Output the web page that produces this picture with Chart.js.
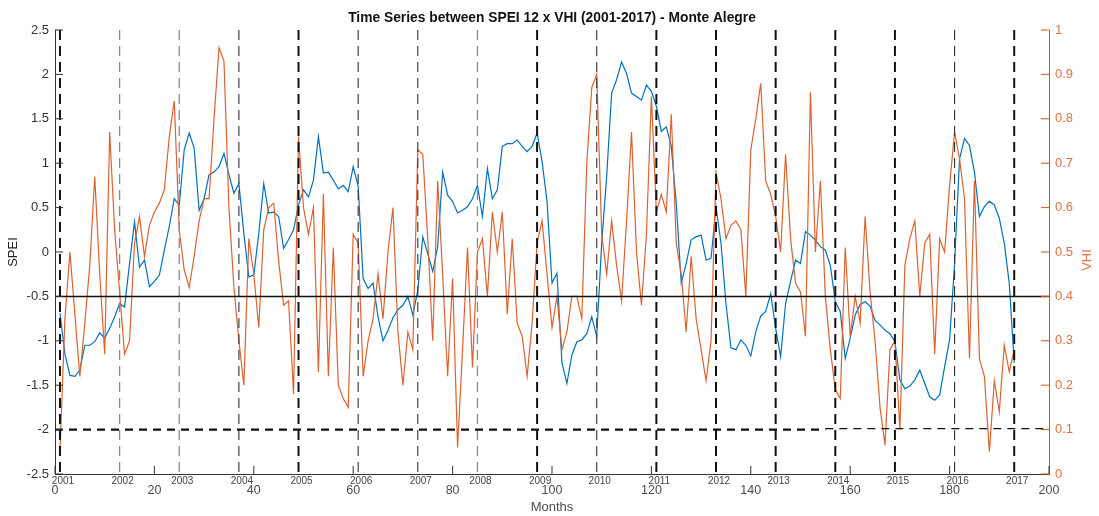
<!DOCTYPE html>
<html>
<head>
<meta charset="utf-8">
<script src="https://cdn.jsdelivr.net/npm/chart.js@4.4.0/dist/chart.umd.min.js"></script>
<style>
  html, body { margin: 0; padding: 0; background: #fff; }
  #wrap { width: 1099px; height: 516px; }
</style>
</head>
<body>
<div id="wrap"><canvas id="seriesChart" width="1099" height="516"></canvas></div>
<script>
const chartTitle = 'Time Series between SPEI 12 x VHI (2001-2017) - Monte Alegre';
const firstMonth = 1;

// SPEI 12, one row per year (month 1 = Jan 2001)
const speiValues = [
  -0.69, -1.15, -1.39, -1.40, -1.33, -1.05, -1.05, -1.01, -0.91, -0.97, -0.86, -0.73,
  -0.58, -0.62, -0.13, 0.34, -0.17, -0.09, -0.39, -0.33, -0.26, 0.02, 0.29, 0.60,
  0.53, 1.15, 1.34, 1.17, 0.47, 0.60, 0.87, 0.90, 0.96, 1.11, 0.87, 0.66,
  0.77, 0.21, -0.28, -0.26, 0.21, 0.77, 0.44, 0.45, 0.40, 0.04, 0.14, 0.25,
  0.53, 0.70, 0.62, 0.81, 1.30, 0.89, 0.90, 0.81, 0.71, 0.75, 0.68, 0.96,
  0.74, -0.30, -0.41, -0.35, -0.73, -1.00, -0.88, -0.74, -0.65, -0.60, -0.50, -0.71,
  -0.43, 0.17, -0.02, -0.22, 0.06, 0.90, 0.64, 0.57, 0.44, 0.47, 0.51, 0.60,
  0.75, 0.40, 0.94, 0.60, 0.70, 1.19, 1.22, 1.22, 1.26, 1.19, 1.13, 1.19,
  1.34, 1.02, 0.57, -0.35, -0.24, -1.25, -1.48, -1.16, -1.01, -0.99, -0.92, -0.73,
  -0.95, 0.10, 0.85, 1.79, 1.94, 2.14, 2.01, 1.79, 1.75, 1.71, 1.88, 1.81,
  1.64, 1.36, 1.41, 1.19, 0.55, -0.35, -0.13, 0.14, 0.17, 0.19, -0.09, -0.07,
  0.51, 0.10, -0.58, -1.08, -1.10, -0.99, -1.05, -1.17, -0.90, -0.72, -0.67, -0.47,
  -0.86, -1.18, -0.58, -0.33, -0.09, -0.13, 0.23, 0.19, 0.13, 0.06, 0.02, -0.15,
  -0.56, -0.67, -1.20, -0.97, -0.71, -0.59, -0.56, -0.61, -0.77, -0.82, -0.88, -0.92,
  -1.01, -1.44, -1.54, -1.51, -1.44, -1.33, -1.48, -1.63, -1.67, -1.61, -1.29, -0.99,
  -0.13, 1.05, 1.28, 1.20, 0.90, 0.40, 0.51, 0.57, 0.53, 0.38, 0.10, -0.35,
  -1.25
];

// VHI, same months
const vhiValues = [
  0.05, 0.35, 0.50, 0.36, 0.22, 0.34, 0.47, 0.67, 0.45, 0.27, 0.77, 0.55,
  0.41, 0.27, 0.30, 0.52, 0.58, 0.49, 0.56, 0.59, 0.61, 0.64, 0.76, 0.84,
  0.55, 0.46, 0.42, 0.49, 0.57, 0.62, 0.62, 0.80, 0.96, 0.93, 0.60, 0.42,
  0.30, 0.20, 0.53, 0.45, 0.33, 0.55, 0.60, 0.61, 0.48, 0.38, 0.39, 0.18,
  0.76, 0.60, 0.54, 0.60, 0.23, 0.63, 0.22, 0.51, 0.20, 0.17, 0.15, 0.54,
  0.52, 0.22, 0.30, 0.35, 0.45, 0.35, 0.50, 0.60, 0.32, 0.20, 0.32, 0.28,
  0.73, 0.72, 0.53, 0.30, 0.66, 0.45, 0.22, 0.44, 0.06, 0.28, 0.51, 0.24,
  0.50, 0.53, 0.40, 0.59, 0.50, 0.59, 0.36, 0.53, 0.34, 0.31, 0.22, 0.34,
  0.52, 0.57, 0.45, 0.33, 0.40, 0.28, 0.32, 0.40, 0.40, 0.35, 0.70, 0.87,
  0.90, 0.54, 0.45, 0.57, 0.47, 0.39, 0.57, 0.77, 0.50, 0.38, 0.54, 0.85,
  0.59, 0.63, 0.59, 0.81, 0.52, 0.45, 0.32, 0.49, 0.35, 0.28, 0.21, 0.30,
  0.68, 0.62, 0.53, 0.56, 0.57, 0.55, 0.40, 0.73, 0.80, 0.88, 0.66, 0.63,
  0.58, 0.50, 0.72, 0.53, 0.43, 0.41, 0.31, 0.86, 0.50, 0.66, 0.40, 0.28,
  0.19, 0.17, 0.51, 0.31, 0.40, 0.34, 0.58, 0.41, 0.30, 0.15, 0.065, 0.28,
  0.30, 0.10, 0.47, 0.53, 0.57, 0.40, 0.52, 0.54, 0.27, 0.53, 0.50, 0.65,
  0.77, 0.71, 0.62, 0.26, 0.66, 0.26, 0.22, 0.05, 0.21, 0.14, 0.29, 0.23,
  0.28
];

const yearLabels = ['2001', '2002', '2003', '2004', '2005', '2006', '2007', '2008', '2009',
  '2010', '2011', '2012', '2013', '2014', '2015', '2016', '2017'];
const yearMonths = [1, 13, 25, 37, 49, 61, 73, 85, 97, 109, 121, 133, 145, 157, 169, 181, 193];
const yearLineKind = ['bold', 'gray', 'gray', 'thin', 'bold', 'thin', 'thin', 'gray', 'bold',
  'thin', 'bold', 'bold', 'bold', 'bold', 'bold', 'thin', 'bold'];

const speiLimit = -0.5;     // solid line
const speiDrought = -2;     // dashed line
const droughtSplitMonth = 155;

const BLUE = '#0072BD';
const ORANGE = '#D95319';
const ORANGE_TEXT = '#DD7443';
const FONT = "'Liberation Sans', Arial, sans-serif";

const lineStyles = {
  bold: { color: '#111', width: 2 },
  gray: { color: '#8a8a8a', width: 1.3 },
  thin: { color: '#333', width: 1.1 }
};

// MATLAB style tick text: 2 instead of 2.0
function plainTick(value) {
  return String(Math.round(value * 10) / 10);
}

function hLine(ctx, xs, y, x0, x1, opts) {
  ctx.save();
  ctx.strokeStyle = opts.color;
  ctx.lineWidth = opts.width;
  ctx.setLineDash(opts.dash || []);
  ctx.beginPath();
  ctx.moveTo(xs.getPixelForValue(x0), y);
  ctx.lineTo(xs.getPixelForValue(x1), y);
  ctx.stroke();
  ctx.restore();
}

// year separators, thresholds, inner tick marks and extra text
const overlayPlugin = {
  id: 'overlay',
  afterDatasetsDraw(chart) {
    const ctx = chart.ctx;
    const { top, bottom, left, right } = chart.chartArea;
    const xs = chart.scales.x;
    const ys = chart.scales.y;
    const ys1 = chart.scales.y1;

    yearMonths.forEach(function (m, i) {
      const st = lineStyles[yearLineKind[i]];
      const px = xs.getPixelForValue(m);
      ctx.save();
      ctx.strokeStyle = st.color;
      ctx.lineWidth = st.width;
      ctx.setLineDash([10, 6]);
      ctx.beginPath();
      ctx.moveTo(px, top);
      ctx.lineTo(px, bottom);
      ctx.stroke();
      ctx.restore();
    });

    hLine(ctx, xs, ys.getPixelForValue(speiLimit), 0, 200, { color: '#111', width: 1.5 });
    hLine(ctx, xs, ys.getPixelForValue(speiDrought), 0, droughtSplitMonth,
      { color: '#111', width: 2.2, dash: [8, 6] });
    hLine(ctx, xs, ys.getPixelForValue(speiDrought) - 1, droughtSplitMonth, 200,
      { color: '#111', width: 1.4, dash: [8, 6] });

    // tick marks pointing inside the box
    ctx.save();
    ctx.lineWidth = 1;
    ctx.strokeStyle = '#333';
    ys.ticks.forEach(function (t) {
      const py = ys.getPixelForValue(t.value);
      ctx.beginPath(); ctx.moveTo(left, py); ctx.lineTo(left + 8, py); ctx.stroke();
    });
    xs.ticks.forEach(function (t) {
      const px = xs.getPixelForValue(t.value);
      ctx.beginPath(); ctx.moveTo(px, bottom); ctx.lineTo(px, bottom - 8); ctx.stroke();
    });
    ctx.strokeStyle = ORANGE;
    ys1.ticks.forEach(function (t) {
      const py = ys1.getPixelForValue(t.value);
      ctx.beginPath(); ctx.moveTo(right, py); ctx.lineTo(right - 8, py); ctx.stroke();
    });
    ctx.restore();

    // year labels under the axis
    ctx.save();
    ctx.font = '10px ' + FONT;
    ctx.fillStyle = '#444';
    ctx.textAlign = 'center';
    ctx.textBaseline = 'middle';
    yearMonths.forEach(function (m, i) {
      ctx.fillText(yearLabels[i], xs.getPixelForValue(m) + 3, bottom + 7);
    });
    ctx.restore();

    // title
    ctx.save();
    ctx.font = 'bold 13.8px ' + FONT;
    ctx.fillStyle = '#111';
    ctx.textAlign = 'center';
    ctx.textBaseline = 'middle';
    ctx.fillText(chartTitle, (left + right) / 2, 18);
    ctx.restore();

    // right axis title, reading bottom to top like the left one
    ctx.save();
    ctx.translate(1087, (top + bottom) / 2 + 8);
    ctx.rotate(-Math.PI / 2);
    ctx.font = '13px ' + FONT;
    ctx.fillStyle = ORANGE_TEXT;
    ctx.textAlign = 'center';
    ctx.textBaseline = 'middle';
    ctx.fillText('VHI', 0, 0);
    ctx.restore();
  }
};

const canvas = document.getElementById('seriesChart');
new Chart(canvas.getContext('2d'), {
  type: 'line',
  data: {
    datasets: [
      {
        label: 'VHI',
        yAxisID: 'y1',
        data: vhiValues.map(function (v, i) { return { x: firstMonth + i, y: v }; }),
        borderColor: '#DC6330',
        borderWidth: 1.2,
        pointRadius: 0,
        tension: 0
      },
      {
        label: 'SPEI 12',
        yAxisID: 'y',
        data: speiValues.map(function (v, i) { return { x: firstMonth + i, y: v }; }),
        borderColor: BLUE,
        borderWidth: 1.2,
        pointRadius: 0,
        tension: 0
      }
    ]
  },
  options: {
    responsive: false,
    animation: false,
    layout: { padding: { top: 30, left: 0, right: 0, bottom: 0 } },
    plugins: {
      legend: { display: false },
      tooltip: { enabled: false },
      title: { display: false }
    },
    scales: {
      x: {
        type: 'linear',
        min: 0,
        max: 200,
        afterFit: function (s) { s.height = 42; },
        ticks: { stepSize: 20, color: '#4d4d4d', padding: 9, font: { family: FONT, size: 12.5 } },
        grid: { display: true, drawOnChartArea: false, drawTicks: false },
        border: { display: true, color: '#333', width: 1 },
        title: { display: true, text: 'Months', color: '#4d4d4d', font: { family: FONT, size: 13 },
          padding: { top: 0, bottom: 1 } }
      },
      y: {
        position: 'left',
        min: -2.5,
        max: 2.5,
        afterFit: function (s) { s.width = 55; },
        ticks: { stepSize: 0.5, color: '#333', padding: 6, font: { family: FONT, size: 13 },
          callback: plainTick },
        grid: { display: true, drawOnChartArea: false, drawTicks: false },
        border: { display: true, color: '#333', width: 1 },
        title: { display: true, text: 'SPEI', color: '#222', font: { family: FONT, size: 13 },
          padding: { top: 6, bottom: 0 } }
      },
      y1: {
        position: 'right',
        min: 0,
        max: 1,
        afterFit: function (s) { s.width = 50; },
        ticks: { stepSize: 0.1, color: ORANGE_TEXT, padding: 6, font: { family: FONT, size: 13 },
          callback: plainTick },
        grid: { display: true, drawOnChartArea: false, drawTicks: false },
        border: { display: true, color: ORANGE, width: 1 }
      }
    }
  },
  plugins: [overlayPlugin]
});
</script>
</body>
</html>
